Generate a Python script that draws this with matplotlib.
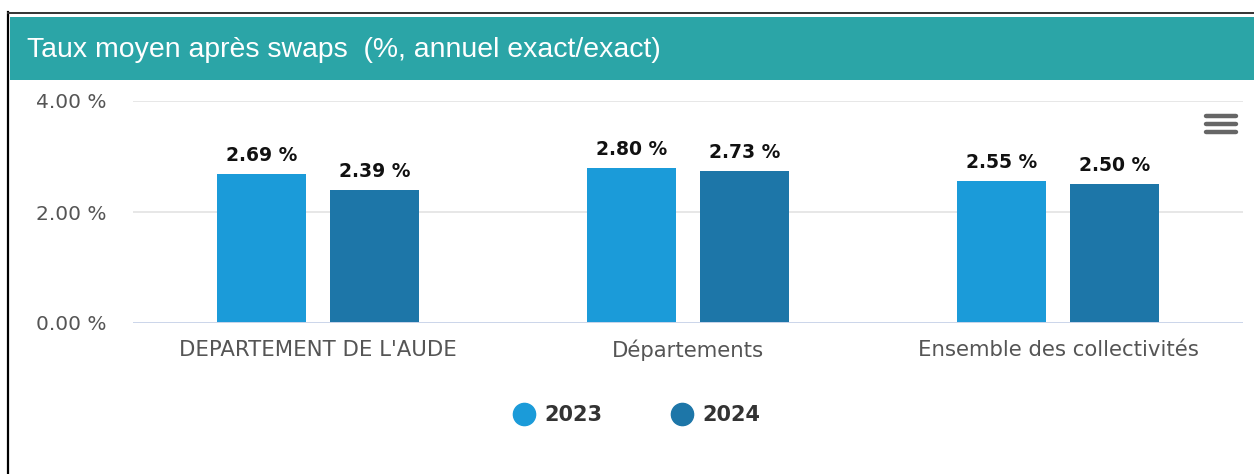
import matplotlib
matplotlib.use("Agg")
import matplotlib.pyplot as plt
from matplotlib.patches import Rectangle
from matplotlib.lines import Line2D
import numpy as np

categories = ["DEPARTEMENT DE L'AUDE", "Départements", "Ensemble des collectivités"]
series_names = ["2023", "2024"]
values_2023 = [2.69, 2.80, 2.55]
values_2024 = [2.39, 2.73, 2.50]
yticks = [0, 2, 4]
ytick_labels = ["0.00 %", "2.00 %", "4.00 %"]
title = "Taux moyen après swaps  (%, annuel exact/exact)"

c2023 = "#1b9bd9"
c2024 = "#1d76a8"
teal = "#2ba5a7"

W, H = 1254, 474
fig = plt.figure(figsize=(W / 100, H / 100), dpi=100)
fig.patch.set_facecolor("white")

def fx(px):
    return px / W

def fy(py):
    return 1 - py / H

# outer border lines
fig.add_artist(Line2D([fx(7.5), fx(7.5)], [fy(12), fy(474)], color="black", lw=1.6))
fig.add_artist(Line2D([fx(7.5), fx(1254)], [fy(12.5), fy(12.5)], color="#333333", lw=1.4))
# header band
fig.add_artist(Rectangle((fx(10), fy(80)), fx(1254) - fx(10), fy(17) - fy(80),
                         transform=fig.transFigure, facecolor=teal, edgecolor="none"))
fig.text(fx(27), fy(50), title, color="white", fontsize=20.4,
         family="Liberation Sans", va="center", ha="left")

ax = fig.add_axes([fx(133), fy(323), fx(1243) - fx(133), fy(101) - fy(323)])
x = np.arange(len(categories))
bw = 0.24
off = 0.153
b1 = ax.bar(x - off, values_2023, bw, color=c2023, zorder=3)
b2 = ax.bar(x + off, values_2024, bw, color=c2024, zorder=3)

for bars, vals in ((b1, values_2023), (b2, values_2024)):
    for r, v in zip(bars, vals):
        ax.annotate(f"{v:.2f} %", (r.get_x() + r.get_width() / 2, v),
                    xytext=(0, 6.5), textcoords="offset points",
                    ha="center", va="bottom", fontsize=13.5, fontweight="bold",
                    color="#111111", family="DejaVu Sans")

ax.set_xlim(-0.5, 2.5)
ax.set_ylim(0, 4)
ax.set_yticks(yticks)
ax.set_yticklabels(ytick_labels)
ax.set_xticks(x)
ax.set_xticklabels(categories)
for s in ax.spines.values():
    s.set_visible(False)
ax.grid(axis="y", color="#e3e3e3", lw=1.2, zorder=0)
ax.axhline(0, color="#ccd6eb", lw=1.4, zorder=4)
ax.tick_params(axis="y", length=0, labelsize=14.5, labelcolor="#555555", pad=19)
ax.tick_params(axis="x", length=0, labelsize=15.3, labelcolor="#555555", pad=12)
for t in ax.get_xticklabels() + ax.get_yticklabels():
    t.set_family("DejaVu Sans")
for t in ax.get_yticklabels():
    t.set_horizontalalignment("right")
ax.set_facecolor("white")

handles = [Line2D([], [], marker="o", ls="", markersize=16, color=c2023),
           Line2D([], [], marker="o", ls="", markersize=16, color=c2024)]
leg = fig.legend(handles, series_names, loc="center", bbox_to_anchor=(fx(636), fy(415)),
                 ncol=2, frameon=False, handletextpad=0.4, columnspacing=3.2,
                 handlelength=1.2,
                 prop={"family": "DejaVu Sans", "weight": "bold", "size": 15})
for t in leg.get_texts():
    t.set_color("#333333")

# menu icon
for yy in (116, 124, 132):
    fig.add_artist(Line2D([fx(1206), fx(1236)], [fy(yy), fy(yy)], color="#666666",
                          lw=3.2, solid_capstyle="round"))

fig.savefig("out.png", dpi=100)
